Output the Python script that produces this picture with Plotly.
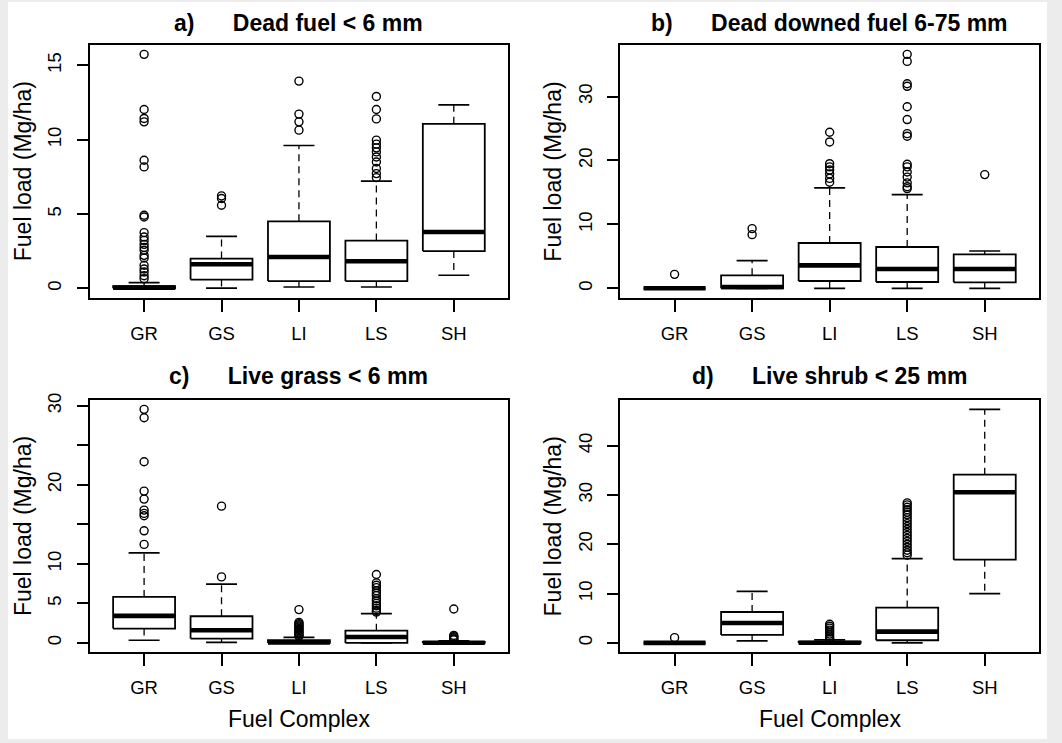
import plotly.graph_objects as go

# ---------------- data ----------------
CATEGORIES = ["GR", "GS", "LI", "LS", "SH"]

# Panel a) Dead fuel < 6 mm
A_Q1 = [0.0, 0.59, 0.49, 0.49, 2.51]
A_MED = [0.05, 1.62, 2.11, 1.82, 3.79]
A_Q3 = [0.15, 2.00, 4.51, 3.21, 11.07]
A_LO = [0.0, 0.02, 0.09, 0.09, 0.88]
A_HI = [0.38, 3.50, 9.61, 7.21, 12.34]
A_OUT = [
    [15.74, 12.03, 11.43, 11.2, 8.62, 8.17, 4.92, 4.8, 3.75, 3.45, 3.23, 2.96,
     2.75, 2.56, 2.22, 2.04, 1.55, 1.3, 1.1, 0.85, 0.65],
    [6.22, 6.04, 5.59],
    [13.94, 11.72, 11.2, 10.64],
    [12.91, 12.03, 11.4, 9.97, 9.7, 9.45, 9.18, 8.84, 8.5, 8.06, 7.72, 7.45],
    [],
]
A_TICKS = [0, 5, 10, 15]
A_TICKTEXT = ["0", "5", "10", "15"]

# Panel b) Dead downed fuel 6-75 mm
B_Q1 = [0.0, 0.0, 1.15, 0.99, 0.94]
B_MED = [0.02, 0.21, 3.60, 3.03, 3.03]
B_Q3 = [0.06, 2.03, 7.09, 6.47, 5.32]
B_LO = [0.0, 0.0, 0.0, 0.0, 0.0]
B_HI = [0.10, 4.33, 15.70, 14.66, 5.84]
B_OUT = [
    [2.19],
    [9.34, 8.4],
    [24.41, 22.9, 19.5, 19.0, 18.5, 17.9, 17.2, 16.6],
    [36.6, 35.5, 32.0, 31.6, 28.4, 26.4, 24.2, 23.8, 19.4, 19.0, 18.2, 17.4,
     16.5, 15.9, 15.6],
    [17.79],
]
B_TICKS = [0, 10, 20, 30]
B_TICKTEXT = ["0", "10", "20", "30"]

# Panel c) Live grass < 6 mm
C_Q1 = [1.82, 0.56, 0.0, 0.0, 0.0]
C_MED = [3.42, 1.61, 0.05, 0.76, 0.02]
C_Q3 = [5.82, 3.38, 0.35, 1.55, 0.12]
C_LO = [0.34, 0.08, 0.0, 0.0, 0.0]
C_HI = [11.39, 7.43, 0.70, 3.72, 0.28]
C_OUT = [
    [29.54, 28.48, 22.91, 19.2, 18.19, 16.8, 16.38, 16.08, 14.18, 12.46],
    [17.3, 8.35],
    [4.22, 2.6, 2.45, 2.3, 2.15, 2.0, 1.85, 1.7, 1.55, 1.4, 1.25, 1.1, 0.95, 0.85],
    [8.66, 7.6, 7.3, 7.0, 6.6, 6.3, 6.0, 5.6, 5.3, 5.0, 4.7, 4.4, 4.1, 3.9],
    [4.3, 0.95, 0.8, 0.65, 0.5, 0.4],
]
C_TICKS = [0, 5, 10, 15, 20, 25, 30]
C_TICKTEXT = ["0", "5", "10", "", "20", "", "30"]

# Panel d) Live shrub < 25 mm
D_Q1 = [0.0, 1.62, 0.0, 0.55, 16.89]
D_MED = [0.02, 4.05, 0.03, 2.30, 30.54]
D_Q3 = [0.08, 6.28, 0.25, 7.17, 34.12]
D_LO = [0.0, 0.41, 0.0, 0.0, 10.0]
D_HI = [0.20, 10.47, 0.62, 17.10, 47.36]
D_OUT = [
    [1.08],
    [],
    [3.8, 3.4, 3.0, 2.6, 2.2, 1.8, 1.4, 1.0, 0.8],
    [28.4, 28.0, 27.5, 27.0, 26.5, 26.0, 25.4, 24.8, 24.2, 23.6, 23.0, 22.4,
     21.8, 21.2, 20.6, 20.0, 19.4, 18.8, 18.3, 17.8],
    [],
]
D_TICKS = [0, 10, 20, 30, 40]
D_TICKTEXT = ["0", "10", "20", "30", "40"]

TITLES = ["a)", "b)", "c)", "d)"]
SUBTITLES = ["Dead fuel < 6 mm", "Dead downed fuel 6-75 mm",
             "Live grass < 6 mm", "Live shrub < 25 mm"]
Y_TITLE = "Fuel load (Mg/ha)"
X_TITLE = "Fuel Complex"

# ---------------- styling / layout ----------------
W, H = 1062, 743
FONT = "Liberation Sans, Arial, Helvetica, sans-serif"
BOX_HALF = 0.4
CAP_HALF = 0.2


def px_x(p):
    return p / W


def px_y(p):
    return 1 - p / H


# frames in pixels: (left, right, top, bottom)
FRAMES = [
    (89.9, 508.0, 45.0, 297.7),
    (620.3, 1039.0, 45.0, 297.7),
    (89.9, 508.0, 400.0, 652.3),
    (620.3, 1039.0, 400.0, 652.3),
]

panels = [
    (A_Q1, A_MED, A_Q3, A_LO, A_HI, A_OUT, A_TICKS, A_TICKTEXT),
    (B_Q1, B_MED, B_Q3, B_LO, B_HI, B_OUT, B_TICKS, B_TICKTEXT),
    (C_Q1, C_MED, C_Q3, C_LO, C_HI, C_OUT, C_TICKS, C_TICKTEXT),
    (D_Q1, D_MED, D_Q3, D_LO, D_HI, D_OUT, D_TICKS, D_TICKTEXT),
]

fig = go.Figure()
layout_axes = {}
annotations = []

for k, (q1, med, q3, lo, hi, outs, ticks, ticktext) in enumerate(panels):
    xa = "x" if k == 0 else f"x{k+1}"
    ya = "y" if k == 0 else f"y{k+1}"
    xs = list(range(1, len(CATEGORIES) + 1))

    # whiskers (dashed)
    wx, wy = [], []
    for i, x in enumerate(xs):
        wx += [x, x, None, x, x, None]
        wy += [q3[i], hi[i], None, q1[i], lo[i], None]
    fig.add_trace(go.Scatter(x=wx, y=wy, mode="lines", xaxis=xa, yaxis=ya,
                             line=dict(color="black", width=1.3, dash="7px,5px"),
                             hoverinfo="skip", showlegend=False))
    # caps
    cx, cy = [], []
    for i, x in enumerate(xs):
        cx += [x - CAP_HALF, x + CAP_HALF, None, x - CAP_HALF, x + CAP_HALF, None]
        cy += [hi[i], hi[i], None, lo[i], lo[i], None]
    fig.add_trace(go.Scatter(x=cx, y=cy, mode="lines", xaxis=xa, yaxis=ya,
                             line=dict(color="black", width=1.7),
                             hoverinfo="skip", showlegend=False))
    # boxes
    bx, by = [], []
    for i, x in enumerate(xs):
        bx += [x - BOX_HALF, x + BOX_HALF, x + BOX_HALF, x - BOX_HALF, x - BOX_HALF, None]
        by += [q1[i], q1[i], q3[i], q3[i], q1[i], None]
    fig.add_trace(go.Scatter(x=bx, y=by, mode="lines", xaxis=xa, yaxis=ya,
                             line=dict(color="black", width=1.8),
                             hoverinfo="skip", showlegend=False))
    # medians
    mx, my = [], []
    for i, x in enumerate(xs):
        mx += [x - BOX_HALF, x + BOX_HALF, None]
        my += [med[i], med[i], None]
    fig.add_trace(go.Scatter(x=mx, y=my, mode="lines", xaxis=xa, yaxis=ya,
                             line=dict(color="black", width=4.6),
                             hoverinfo="skip", showlegend=False))
    # outliers
    ox, oy = [], []
    for i, x in enumerate(xs):
        ox += [x] * len(outs[i])
        oy += outs[i]
    fig.add_trace(go.Scatter(x=ox, y=oy, mode="markers", xaxis=xa, yaxis=ya,
                             marker=dict(symbol="circle-open", size=8, color="black",
                                         line=dict(width=1.4, color="black")),
                             hoverinfo="skip", showlegend=False))

    allv = q1 + med + q3 + lo + hi + [v for o in outs for v in o]
    vmin, vmax = min(allv), max(allv)
    span = vmax - vmin
    yr = [vmin - 0.04 * span, vmax + 0.04 * span]

    L, R, T, B = FRAMES[k]
    xkey = "xaxis" if k == 0 else f"xaxis{k+1}"
    ykey = "yaxis" if k == 0 else f"yaxis{k+1}"
    layout_axes[xkey] = dict(
        domain=[px_x(L), px_x(R)], anchor=ya, range=[0.3, 5.7],
        tickmode="array", tickvals=xs, ticktext=CATEGORIES,
        ticks="outside", ticklen=12, tickwidth=1.5, tickcolor="black",
        showline=True, mirror=True, linecolor="black", linewidth=1.8,
        showgrid=False, zeroline=False, automargin=False,
        ticklabelstandoff=6,
        tickfont=dict(family=FONT, size=18.5, color="black"),
    )
    layout_axes[ykey] = dict(
        domain=[px_y(B), px_y(T)], anchor=xa, range=yr,
        tickmode="array", tickvals=ticks, ticktext=ticktext, tickangle=-90,
        ticks="outside", ticklen=11.5, tickwidth=1.5, tickcolor="black",
        showline=True, mirror=True, linecolor="black", linewidth=1.8,
        showgrid=False, zeroline=False, automargin=False,
        ticklabelstandoff=8,
        tickfont=dict(family=FONT, size=18.5, color="black"),
    )

    cxp = (L + R) / 2
    title_y = 22.8 if k < 2 else 376.0
    annotations.append(dict(
        text=f"<b>{TITLES[k]}" + "\u00a0" * 6 + f"{SUBTITLES[k]}</b>",
        x=px_x(cxp), y=px_y(title_y), xref="paper", yref="paper",
        xanchor="center", yanchor="middle", showarrow=False,
        font=dict(family=FONT, size=23, color="black")))
    annotations.append(dict(
        text=Y_TITLE, textangle=-90,
        x=px_x(L - 67), y=px_y((T + B) / 2), xref="paper", yref="paper",
        xanchor="center", yanchor="middle", showarrow=False,
        font=dict(family=FONT, size=23, color="black")))
    if k >= 2:
        annotations.append(dict(
            text=X_TITLE,
            x=px_x(cxp), y=px_y(719), xref="paper", yref="paper",
            xanchor="center", yanchor="middle", showarrow=False,
            font=dict(family=FONT, size=23, color="black")))

fig.update_layout(
    width=W, height=H,
    margin=dict(l=0, r=0, t=0, b=0),
    paper_bgcolor="#ececec",
    plot_bgcolor="white",
    showlegend=False,
    annotations=annotations,
    shapes=[dict(type="rect", xref="paper", yref="paper",
                 x0=px_x(8), x1=px_x(1047), y0=px_y(739), y1=px_y(2),
                 fillcolor="white", line=dict(width=0), layer="below")],
    **layout_axes,
)

fig.write_html("out.html", config={"displayModeBar": False},
               post_script="document.body.style.margin='0';"
                           "document.body.style.background='#ececec';")
